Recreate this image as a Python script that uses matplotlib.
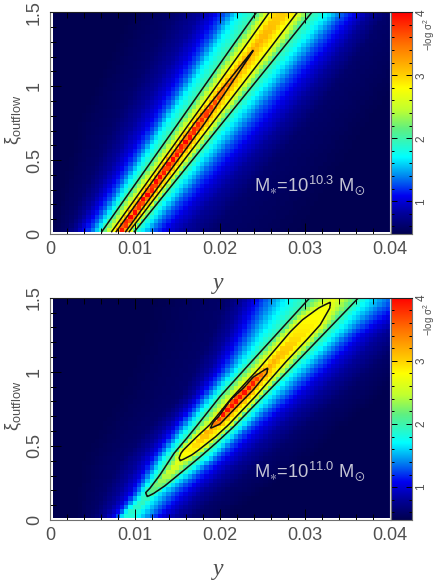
import numpy as np
import matplotlib
matplotlib.use("Agg")
import matplotlib.pyplot as plt
from matplotlib.colors import LinearSegmentedColormap

plt.rcParams['font.family'] = ['Liberation Sans', 'DejaVu Sans']
plt.rcParams['mathtext.fontset'] = 'custom'
plt.rcParams['mathtext.rm'] = 'Liberation Sans'
plt.rcParams['mathtext.it'] = 'Liberation Sans'
plt.rcParams['mathtext.default'] = 'regular'

W, H = 436, 580
TEXT = '#505050'

x_ticks = [0, 0.01, 0.02, 0.03, 0.04]
x_labels = ['0', '0.01', '0.02', '0.03', '0.04']
y_ticks = [0, 0.5, 1, 1.5]
y_labels = ['0', '0.5', '1', '1.5']
cbar_ticks = [1, 2, 3, 4]

# colours
cmap_values = [0.48, 0.8, 1.08, 1.4, 1.7, 2.15, 2.45, 2.8, 3.0, 3.5, 4.0]
cmap_colors = ['#000050', '#00009a', '#0000f0', '#0088f0', '#00ffff', '#60f080',
               '#c0ff30', '#ffff00', '#ffd000', '#ff7000', '#ff0000']
vmin, vmax = 0.48, 4.0

# field values whose x position was read along rows of the picture
low_levels = [0.48, 0.6, 0.8, 1.0, 1.3, 1.7]
contour_levels = [2.0, 2.7, 3.2]
ridge_level = 4.1

# upper panel
rows_a = [0, 0.75, 1.25, 1.5]
left_a = [
    [0.0000, 0.0018, 0.0028, 0.0035, 0.0046, 0.0055],
    [0.0030, 0.0075, 0.0098, 0.0114, 0.0127, 0.0137],
    [0.0070, 0.0122, 0.0150, 0.0166, 0.0181, 0.0194],
    [0.0090, 0.0145, 0.0177, 0.0192, 0.0208, 0.0222],
]
right_a = [
    [0.0300, 0.0190, 0.0155, 0.0135, 0.0118, 0.0105],
    [0.0380, 0.0302, 0.0275, 0.0255, 0.0233, 0.0214],
    [0.0440, 0.0368, 0.0345, 0.0328, 0.0308, 0.0289],
    [0.0460, 0.0396, 0.0376, 0.0363, 0.0345, 0.0327],
]
ridge_a = [0.0080, 0.0176, 0.0240, 0.0272]
c1_left_a = [0.0059, 0.0151, 0.0212, 0.0243]
c1_right_a = [0.0097, 0.02025, 0.0273, 0.0308]
c2_left_a = [0.00706, 0.01643, 0.0227, 0.0258]
c2_right_a = [0.0091, 0.0191, 0.0258, 0.0291]
c3_left_a = [0.0076, 0.0170, 0.0240, 0.0272]
c3_right_a = [0.0087, 0.0182, 0.0240, 0.0272]
peak_y_a = [0, 0.6, 0.85, 1.25, 1.5]
peak_v_a = [4.1, 4.0, 3.7, 3.2, 3.0]

# lower panel
rows_b = [0, 0.17, 0.41, 0.63, 0.83, 1.03, 1.25, 1.47, 1.5]
left_b = [
    [0.0030, 0.0050, 0.0063, 0.0071, 0.0077, 0.0082],
    [0.0030, 0.0062, 0.0080, 0.0092, 0.0100, 0.0107],
    [0.0035, 0.0084, 0.0104, 0.0116, 0.0125, 0.0133],
    [0.0055, 0.0118, 0.0135, 0.0145, 0.0154, 0.0163],
    [0.0075, 0.0153, 0.0165, 0.0173, 0.0182, 0.0192],
    [0.0090, 0.0170, 0.0188, 0.0198, 0.0210, 0.0222],
    [0.0105, 0.0190, 0.0208, 0.0219, 0.0233, 0.0250],
    [0.0115, 0.0206, 0.0225, 0.0237, 0.0253, 0.0276],
    [0.0115, 0.0208, 0.0227, 0.0239, 0.0255, 0.0278],
]
right_b = [
    [0.0208, 0.0165, 0.0145, 0.0129, 0.0116, 0.0100],
    [0.0250, 0.0200, 0.0175, 0.0160, 0.0143, 0.0125],
    [0.0310, 0.0255, 0.0228, 0.0210, 0.0195, 0.0184],
    [0.0350, 0.0298, 0.0270, 0.0252, 0.0235, 0.0224],
    [0.0392, 0.0341, 0.0312, 0.0292, 0.0275, 0.0257],
    [0.0430, 0.0380, 0.0350, 0.0330, 0.0312, 0.0294],
    [0.0470, 0.0420, 0.0390, 0.0370, 0.0352, 0.0335],
    [0.0500, 0.0470, 0.0445, 0.0425, 0.0398, 0.0371],
    [0.0500, 0.0475, 0.0450, 0.0425, 0.0400, 0.0373],
]
ridge_b = [0.0089, 0.0113, 0.0153, 0.0189, 0.0222, 0.0256, 0.0293, 0.0330, 0.0335]

# closed contours of the lower panel, each side with its own rows
c1_left_y = [0, 0.158, 0.185, 0.214, 0.304, 0.45, 0.552, 0.63, 0.833, 1.03, 1.25, 1.47, 1.5]
c1_left_x = [0.0089, 0.01145, 0.01126, 0.01176, 0.01294, 0.0146, 0.0161, 0.0172, 0.0200,
             0.0231, 0.0266, 0.0301, 0.0306]
c1_right_y = [0, 0.158, 0.18, 0.23, 0.338, 0.428, 0.518, 0.63, 0.83, 1.03, 1.25, 1.47, 1.5]
c1_right_x = [0.0089, 0.01145, 0.0122, 0.0135, 0.0158, 0.0177, 0.0195, 0.0216, 0.0250,
              0.0284, 0.0321, 0.0358, 0.0363]
c2_left_y = [0, 0.40, 0.42, 0.45, 0.473, 0.563, 0.642, 0.83, 1.03, 1.272, 1.351, 1.43, 1.468, 1.5]
c2_left_x = [0.0089, 0.0153, 0.0152, 0.0154, 0.0157, 0.0173, 0.0188, 0.0215, 0.0247, 0.0283,
             0.0297, 0.0316, 0.0329, 0.0335]
c2_right_y = [0, 0.40, 0.41, 0.44, 0.473, 0.563, 0.642, 0.83, 1.07, 1.216, 1.318, 1.43, 1.468, 1.5]
c2_right_x = [0.0089, 0.0153, 0.0157, 0.0167, 0.0175, 0.0195, 0.0210, 0.0241, 0.0278, 0.0302,
              0.0318, 0.0329, 0.0330, 0.0335]
c3_left_y = [0, 0.62, 0.66, 0.698, 0.81, 0.89, 0.964, 1.025, 1.5]
c3_left_x = [0.0089, 0.0189, 0.0192, 0.01985, 0.0212, 0.02275, 0.0239, 0.0256, 0.0335]
c3_right_y = [0, 0.62, 0.648, 0.788, 0.878, 0.99, 1.025, 1.5]
c3_right_x = [0.0089, 0.0189, 0.0200, 0.02235, 0.0239, 0.0255, 0.0256, 0.0335]
peak_y_b = [0, 0.158, 0.40, 0.62, 0.72, 0.9, 1.025, 1.25, 1.468, 1.5]
peak_v_b = [1.8, 2.0, 2.7, 3.2, 4.0, 4.0, 3.2, 2.9, 2.7, 2.68]


def build_field(x, y, rows, left, right, ridge, c_left, c_right, peak_y, peak_v):
    left, right = np.array(left), np.array(right)
    out = np.zeros((len(y), len(x)))
    vals = low_levels + contour_levels + [ridge_level] + contour_levels[::-1] + low_levels[::-1]
    for j, yy in enumerate(y):
        lk = [np.interp(yy, rows, left[:, k]) for k in range(len(low_levels))]
        rk = [np.interp(yy, rows, right[:, k]) for k in range(len(low_levels))]
        cl = [np.interp(yy, cy, cx) for cy, cx in c_left]
        cr = [np.interp(yy, cy, cx) for cy, cx in c_right]
        knots = np.maximum.accumulate(lk + cl + [np.interp(yy, rows, ridge)] + cr[::-1] + rk[::-1])
        out[j] = np.minimum(np.interp(x, knots, vals, left=low_levels[0], right=low_levels[0]),
                            np.interp(yy, peak_y, peak_v))
    return out


def px_axes(fig, x0, x1, top, bottom):
    return fig.add_axes([x0 / W, 1 - bottom / H, (x1 - x0) / W, (bottom - top) / H])


def draw_panel(fig, top, bottom, data, label, cmap):
    ax = px_axes(fig, 50, 390, top, bottom)
    # cells: 80 x 50, the image stops just short of the left and bottom axes
    xe = np.linspace(0.0003, 0.04, 81)
    ye = np.linspace(0.012, 1.5, 51)
    xc, yc = (xe[1:] + xe[:-1]) / 2, (ye[1:] + ye[:-1]) / 2
    ax.pcolormesh(xe, ye, build_field(xc, yc, *data), cmap=cmap, vmin=vmin, vmax=vmax,
                  shading='flat')
    xf, yf = np.linspace(0, 0.04, 641), np.linspace(0.012, 1.5, 541)
    ax.contour(xf, yf, build_field(xf, yf, *data), levels=contour_levels, colors='#101010',
               linewidths=1.1)
    ax.set_xlim(0, 0.04)
    ax.set_ylim(0, 1.5)
    ax.set_xticks(x_ticks, x_labels)
    ax.set_yticks(y_ticks, y_labels)
    ax.set_xticks(np.arange(0, 0.0401, 0.002), minor=True)
    ax.set_yticks(np.arange(0, 1.501, 0.1), minor=True)
    ax.tick_params(which='major', direction='in', length=8, width=0.7, top=True,
                   labelsize=13, labelcolor=TEXT, pad=5)
    ax.tick_params(which='minor', direction='in', length=4, width=0.7, top=True)
    for t in ax.get_yticklabels():
        t.set_rotation(90)
        t.set_va('center')
    for s in ax.spines.values():
        s.set_linewidth(0.8)
        s.set_color('#707070')
    ax.spines['top'].set_color('#202020')
    ax.spines['right'].set_color('#d8d8d8')
    ax.text(0.02395, 0.33, label, color='#c4c4d4', fontsize=13.2, va='center', ha='left')

    cb = px_axes(fig, 391, 412, top, bottom)
    cb.imshow(np.linspace(vmin, vmax, 256)[:, None], origin='lower', aspect='auto',
              extent=[0, 1, vmin, vmax], cmap=cmap, vmin=vmin, vmax=vmax)
    cb.set_xticks([])
    cb.yaxis.tick_right()
    cb.set_yticks(cbar_ticks, [str(v) for v in cbar_ticks])
    cb.set_yticks(np.arange(0.6, 4.01, 0.2), minor=True)
    cb.tick_params(which='major', direction='in', length=4, width=0.7, left=True, right=True,
                   labelsize=8.5, labelcolor=TEXT, pad=2.5)
    cb.tick_params(which='minor', direction='in', length=2.5, width=0.7, left=True, right=True)
    for t in cb.get_yticklabels():
        t.set_rotation(90)
        t.set_va('center')
    for s in cb.spines.values():
        s.set_linewidth(0.8)
        s.set_color('#707070')
    cb.spines['top'].set_color('#202020')
    fig.text(429.5 / W, 1 - (top + 22) / H, r'$-$log $\sigma^2$', rotation=90, fontsize=7,
             color=TEXT, ha='center', va='center')
    fig.text(14 / W, 1 - (top + 108) / H, r'$\xi_{outflow}$', rotation=90, fontsize=13,
             color=TEXT, ha='center', va='center', math_fontfamily='dejavusans')
    fig.text(218.5 / W, 1 - (bottom + 50) / H, 'y', family='Liberation Serif', style='italic',
             fontsize=17, color=TEXT, ha='center', va='center')


cmap = LinearSegmentedColormap.from_list(
    'rainbow_bar', [((v - vmin) / (vmax - vmin), c) for v, c in zip(cmap_values, cmap_colors)])

data_a = (rows_a, left_a, right_a, ridge_a,
          [(rows_a, c1_left_a), (rows_a, c2_left_a), (rows_a, c3_left_a)],
          [(rows_a, c1_right_a), (rows_a, c2_right_a), (rows_a, c3_right_a)],
          peak_y_a, peak_v_a)
data_b = (rows_b, left_b, right_b, ridge_b,
          [(c1_left_y, c1_left_x), (c2_left_y, c2_left_x), (c3_left_y, c3_left_x)],
          [(c1_right_y, c1_right_x), (c2_right_y, c2_right_x), (c3_right_y, c3_right_x)],
          peak_y_b, peak_v_b)

fig = plt.figure(figsize=(W / 100, H / 100), dpi=100)
draw_panel(fig, 12.3, 234, data_a, r'M$_{\ast}$=10$^{10.3}$ M$_{\odot}$', cmap)
draw_panel(fig, 297.7, 520, data_b, r'M$_{\ast}$=10$^{11.0}$ M$_{\odot}$', cmap)
fig.savefig('out.png', dpi=100)
